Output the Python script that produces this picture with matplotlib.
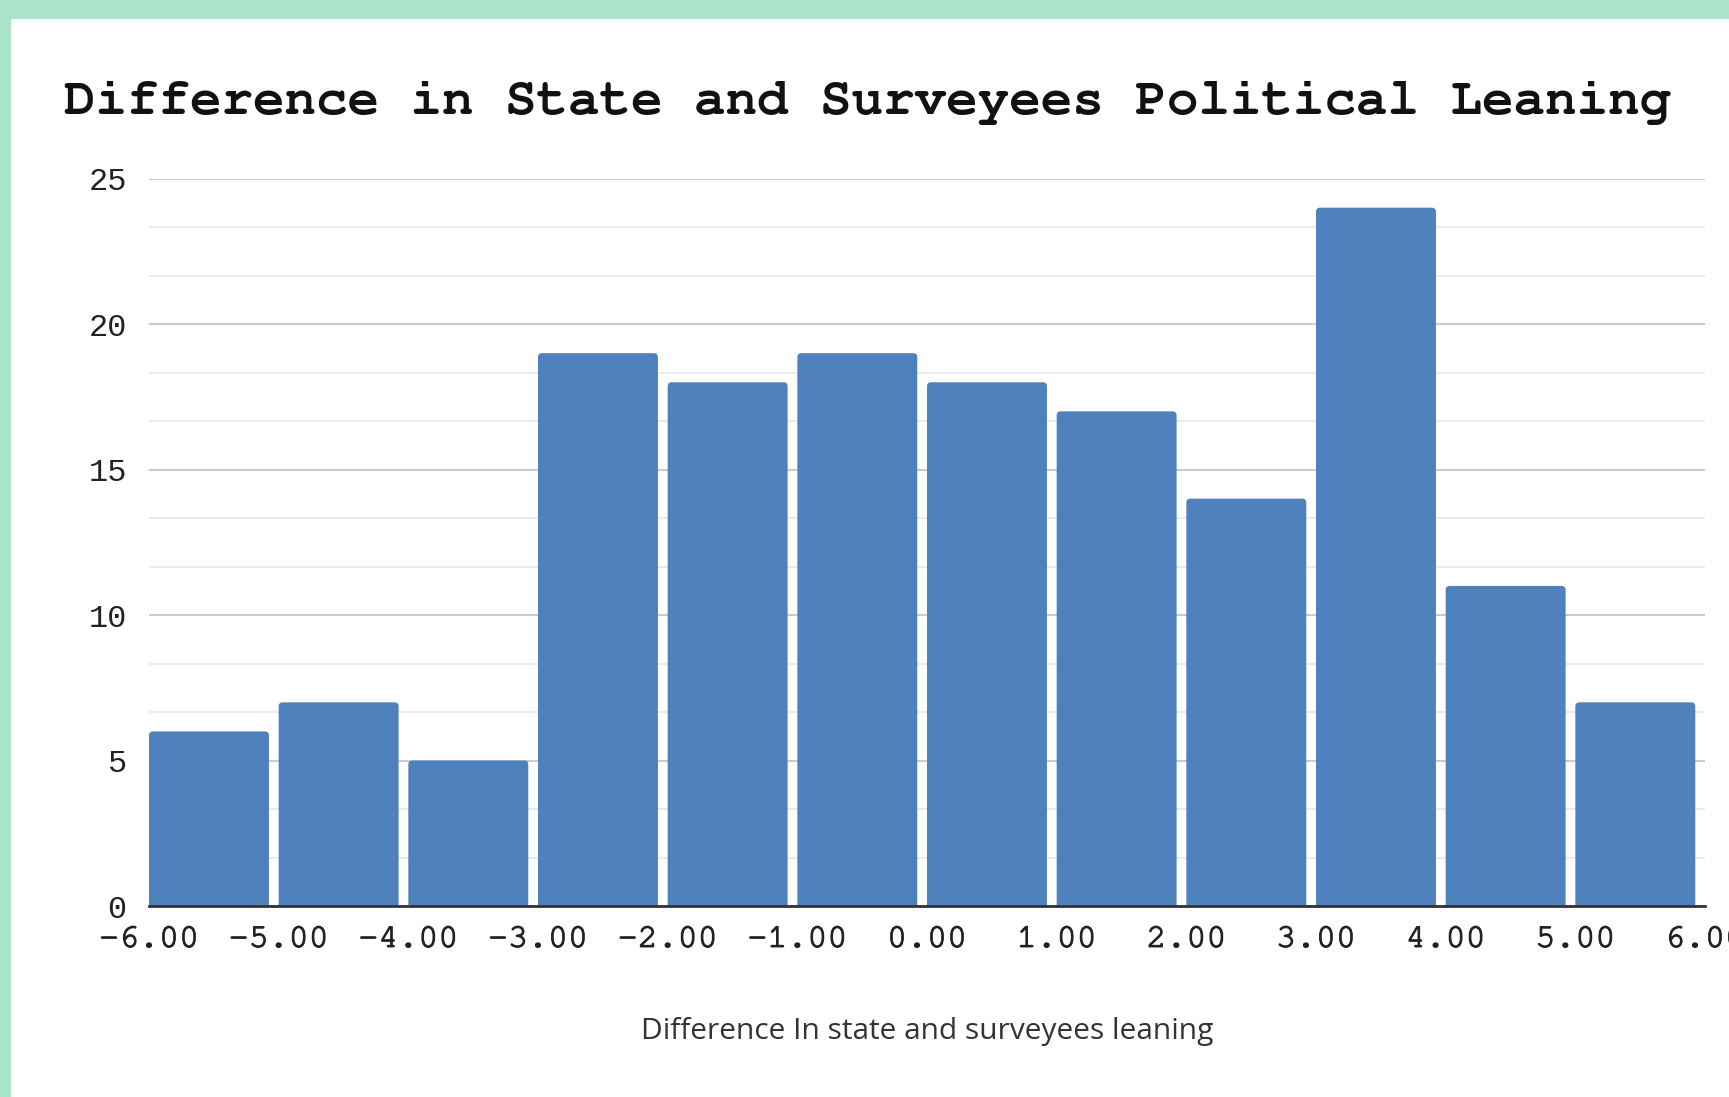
import matplotlib
matplotlib.use("Agg")
import matplotlib.pyplot as plt
import matplotlib.patheffects as pe
from matplotlib.patches import Rectangle, FancyBboxPatch
from matplotlib.ticker import MultipleLocator, FixedLocator
from matplotlib import font_manager

# Histogram data: bin left edges and counts
bin_edges = [-6, -5, -4, -3, -2, -1, 0, 1, 2, 3, 4, 5]
counts = [6, 7, 5, 19, 18, 19, 18, 17, 14, 24, 11, 7]
x_ticks = [-6, -5, -4, -3, -2, -1, 0, 1, 2, 3, 4, 5, 6]
y_ticks = [0, 5, 10, 15, 20, 25]

title = "Difference in State and Surveyees Political Leaning"
xlabel = "Difference In state and surveyees leaning"

# prefer a Courier-style monospace if one is installed
installed = {f.name for f in font_manager.fontManager.ttflist}
mono = next((f for f in ["Courier New", "Nimbus Mono PS", "FreeMono",
                         "Courier 10 Pitch", "Liberation Mono"] if f in installed),
            "DejaVu Sans Mono")

W, H = 1729, 1097
fig = plt.figure(figsize=(W / 100, H / 100), dpi=100, facecolor="#a9e3ca")

# white card over the mint background
fig.patches.append(Rectangle((11 / W, 0), 1 - 11 / W, 1 - 19 / H,
                             transform=fig.transFigure, facecolor="white",
                             edgecolor="none", zorder=-5))

left, right = 149 / W, 1705 / W
bottom, top = 1 - 906 / H, 1 - 178.6 / H
ax = fig.add_axes([left, bottom, right - left, top - bottom])
ax.set_zorder(2)
ax.set_facecolor("none")

ax.set_xlim(-6, 6)
ax.set_ylim(0, 25)

bars = ax.bar(bin_edges, counts, width=0.925, align="edge", color="#4f81bd",
              edgecolor="none", zorder=3)

# swap the plain rectangles for ones with softly rounded corners
px_x = (right - left) * W / 12          # pixels per x unit
px_y = (top - bottom) * H / 25          # pixels per y unit
radius_px = 4
rs = radius_px / px_x
aspect = px_x / px_y
for b in bars:
    x0, w, h = b.get_x(), b.get_width(), b.get_height()
    b.set_visible(False)
    ext = radius_px / px_y
    ax.add_patch(FancyBboxPatch((x0, -ext), w, h + ext,
                                boxstyle=f"round,pad=0,rounding_size={rs}",
                                mutation_aspect=aspect, facecolor="#4f81bd",
                                edgecolor="none", zorder=3, clip_on=True))

ax.xaxis.set_major_locator(FixedLocator(x_ticks))
ax.yaxis.set_major_locator(FixedLocator(y_ticks))
ax.yaxis.set_minor_locator(MultipleLocator(5 / 3))
ax.set_xticklabels([f"{v:.2f}" for v in x_ticks])

ax.set_axisbelow(True)
ax.grid(axis="y", which="major", color="#cccccc", linewidth=1.5)
ax.grid(axis="y", which="minor", color="#ebebeb", linewidth=1.5)
ax.grid(axis="x", visible=False)

for s in ["top", "right", "left"]:
    ax.spines[s].set_visible(False)
ax.spines["bottom"].set_color("#333333")
ax.spines["bottom"].set_linewidth(2)
ax.spines["bottom"].set_zorder(4)

ax.tick_params(axis="both", which="both", length=0)
ax.tick_params(axis="y", pad=16)
ax.tick_params(axis="x", pad=15)
for lab in ax.get_xticklabels():
    lab.set_fontfamily(mono)
    lab.set_fontsize(24)
    lab.set_color("#222222")
    lab.set_path_effects([pe.withStroke(linewidth=0.9, foreground="#222222")])
for lab in ax.get_yticklabels():
    lab.set_fontfamily("Liberation Mono")
    lab.set_fontsize(23)
    lab.set_color("#222222")

fig.text(64 / W, 1 - 103 / H, title, fontfamily=mono,
         fontweight="bold", fontsize=37.8, ha="left", va="center",
         color="#111111")

fig.text((left + right) / 2, 1 - 1031 / H, xlabel, fontfamily="Open Sans",
         fontsize=21.5, ha="center", va="center", color="#333333")

fig.savefig("out.png", dpi=100, facecolor=fig.get_facecolor())
